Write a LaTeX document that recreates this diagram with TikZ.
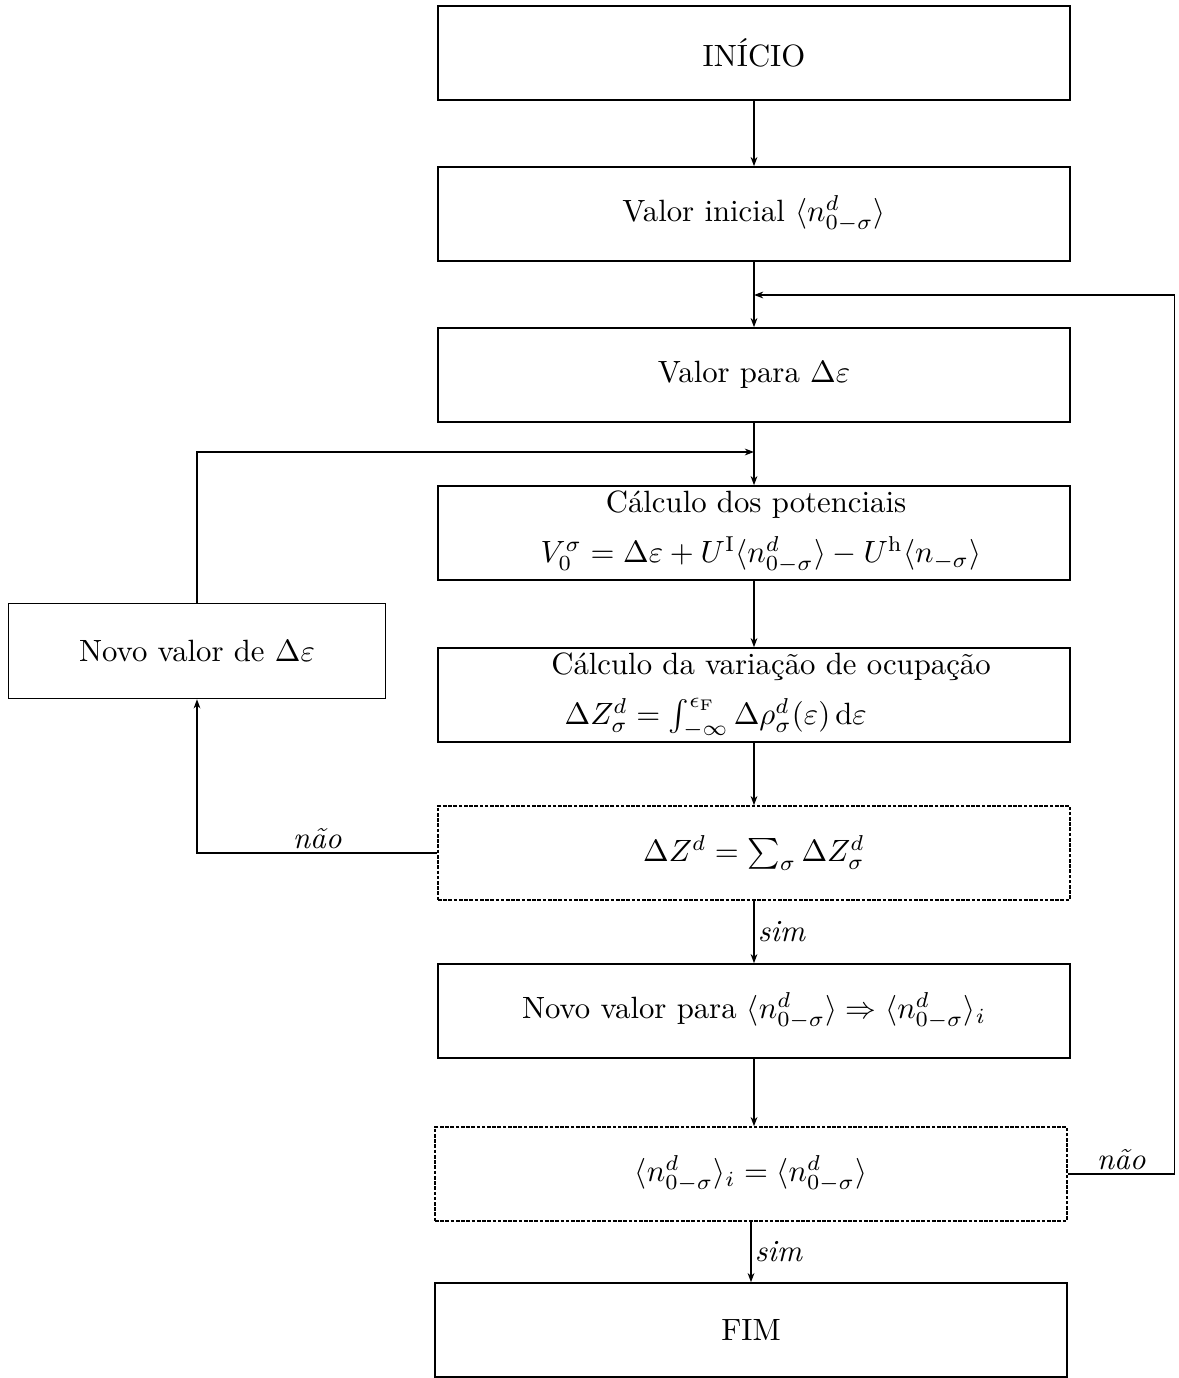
\documentclass[tikz,border=0pt]{standalone}
\usepackage{fontspec}
\usetikzlibrary{arrows.meta}
\begin{document}
\begin{tikzpicture}[x=0.325pt,y=-0.325pt,
  box/.style={draw,line width=0.45pt,minimum width=205.4pt,minimum height=30.6pt,inner sep=0pt},
  dbox/.style={box,dash pattern=on 1.2pt off 0.5pt},
  sbox/.style={draw,line width=0.45pt,minimum width=122.5pt,minimum height=30.9pt,inner sep=0pt},
  arr/.style={line width=0.45pt,-{Stealth[length=3pt,width=2.2pt]}},
  lab/.style={inner sep=1pt,font=\itshape}]
\useasboundingbox (0,0) rectangle (1178,1378);
% main column
\node[box] (start) at (754,53) {INÍCIO};
\node[box] (init) at (754,214) {Valor inicial $\langle n^d_{0-\sigma}\rangle$};
\node[box] (para) at (754,375) {Valor para $\Delta\varepsilon$};
\node[box] (pot) at (754,533) {};
\node (pot1) at (756,505) {Cálculo dos potenciais};
\node (pot2) at (761,555) {$V_0^\sigma = \Delta\varepsilon + U^{\mathrm{I}}\langle n^d_{0-\sigma}\rangle - U^{\mathrm{h}}\langle n_{-\sigma}\rangle$};
\node[box] (var) at (754,695) {};
\node (var1) at (771,667) {Cálculo da variação de ocupação};
\node[anchor=west,inner sep=0pt] (var2) at (564,718) {$\Delta Z^d_\sigma = \int_{-\infty}^{\epsilon_{\mathrm{F}}} \Delta\rho^d_\sigma(\varepsilon)\,\mathrm{d}\varepsilon$};
\node[dbox] (dz) at (754,853) {$\Delta Z^d = \sum_\sigma \Delta Z^d_\sigma$};
\node[box] (novo) at (754,1011) {Novo valor para $\langle n^d_{0-\sigma}\rangle \Rightarrow \langle n^d_{0-\sigma}\rangle_i$};
\node[dbox] (cmp) at (751,1174) {$\langle n^d_{0-\sigma}\rangle_i = \langle n^d_{0-\sigma}\rangle$};
\node[box] (fim) at (751,1330) {FIM};
% side box
\node[sbox] (nd) at (197,651) {Novo valor de $\Delta\varepsilon$};
% junction points
\coordinate (j1) at (754,295);
\coordinate (j2) at (754,452);
% main arrows
\draw[arr] (start) -- (init);
\draw[arr] (init) -- (para);
\draw[arr] (para) -- (pot);
\draw[arr] (pot) -- (var);
\draw[arr] (var) -- (dz);
\draw[arr] (dz) -- node[lab,anchor=west] {sim} (novo);
\draw[arr] (novo) -- (cmp.north -| novo.south);
\draw[arr] (cmp) -- node[lab,anchor=west] {sim} (fim);
% left loop
\draw[arr] (dz.west) -| node[lab,pos=0.25,anchor=south] {não} (nd.south);
\draw[arr] (nd.north) |- (j2);
% right loop
\draw[arr] (cmp.east) -- ++(107,0) coordinate (c1) node[lab,pos=0.5,anchor=south] {não} |- (j1);
\end{tikzpicture}
\end{document}
